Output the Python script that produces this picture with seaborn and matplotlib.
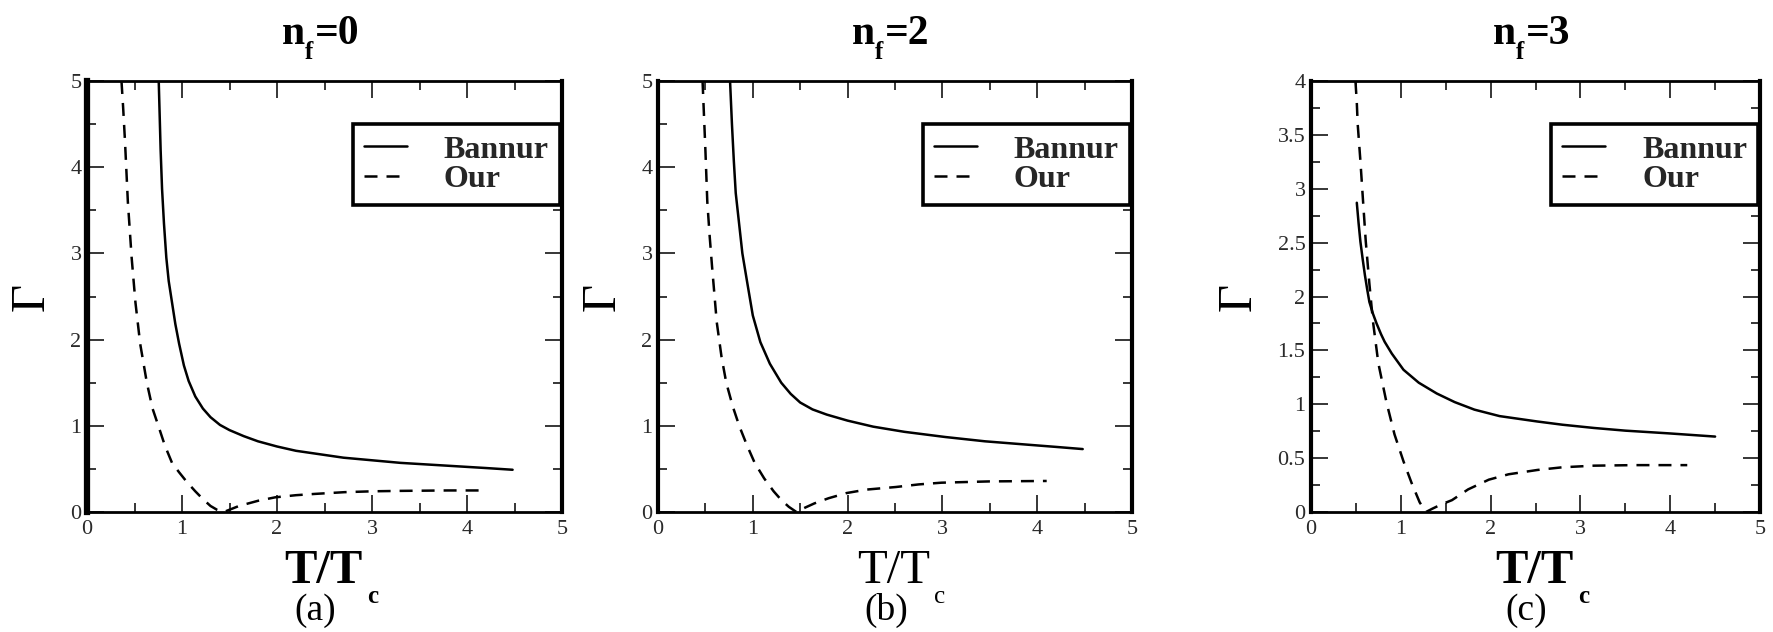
import matplotlib
matplotlib.use("Agg")
import matplotlib.pyplot as plt
import seaborn as sns
from matplotlib.ticker import MultipleLocator, FuncFormatter

# ---- data: coupling parameter Gamma vs T/Tc ----
# n_f = 0
a_bannur_t = [0.755, 0.765, 0.775, 0.79, 0.81, 0.835, 0.86, 0.895, 0.93, 0.97, 1.02, 1.07, 1.14,
              1.22, 1.30, 1.40, 1.50, 1.65, 1.80, 2.0, 2.2, 2.45, 2.7, 3.0, 3.3, 3.6, 3.9, 4.2, 4.48]
a_bannur_g = [5.0, 4.6, 4.2, 3.75, 3.35, 2.95, 2.68, 2.43, 2.18, 1.95, 1.70, 1.52, 1.34,
              1.20, 1.10, 1.01, 0.95, 0.88, 0.82, 0.76, 0.71, 0.67, 0.63, 0.60, 0.57, 0.55, 0.53, 0.51, 0.49]
a_our_t = [0.363, 0.38, 0.40, 0.43, 0.47, 0.51, 0.56, 0.63, 0.69, 0.754, 0.82, 0.895, 0.97, 1.05,
           1.14, 1.22, 1.30, 1.37, 1.44, 1.52, 1.6, 1.7, 1.8, 1.98, 2.2, 2.4, 2.71, 3.0, 3.3, 3.8, 4.2]
a_our_g = [5.0, 4.7, 4.3, 3.6, 2.95, 2.43, 1.95, 1.5, 1.2, 0.99, 0.77, 0.57, 0.46, 0.35,
           0.24, 0.15, 0.07, 0.025, 0.0, 0.035, 0.07, 0.10, 0.13, 0.17, 0.195, 0.21, 0.23, 0.24, 0.245, 0.25, 0.25]

# n_f = 2
b_bannur_t = [0.76, 0.77, 0.78, 0.80, 0.82, 0.85, 0.89, 0.94, 1.0, 1.08, 1.18, 1.30, 1.40, 1.50,
              1.63, 1.78, 2.0, 2.27, 2.6, 3.03, 3.45, 3.91, 4.2, 4.48]
b_bannur_g = [5.0, 4.75, 4.5, 4.07, 3.7, 3.4, 3.0, 2.67, 2.28, 1.97, 1.72, 1.50, 1.37, 1.27,
              1.19, 1.13, 1.06, 0.99, 0.93, 0.87, 0.82, 0.78, 0.755, 0.73]
b_our_t = [0.47, 0.485, 0.50, 0.52, 0.545, 0.57, 0.62, 0.67, 0.72, 0.79, 0.86, 0.94, 1.02, 1.12,
           1.22, 1.30, 1.38, 1.46, 1.55, 1.65, 1.8, 1.99, 2.2, 2.51, 2.75, 2.99, 3.5, 4.1]
b_our_g = [5.0, 4.6, 4.2, 3.6, 3.2, 2.85, 2.2, 1.8, 1.5, 1.22, 0.99, 0.77, 0.57, 0.39,
           0.24, 0.14, 0.06, 0.0, 0.05, 0.10, 0.16, 0.22, 0.26, 0.29, 0.32, 0.34, 0.355, 0.36]

# n_f = 3
c_bannur_t = [0.51, 0.53, 0.55, 0.575, 0.60, 0.625, 0.65, 0.69, 0.73, 0.78, 0.82, 0.90, 1.03, 1.2,
              1.40, 1.6, 1.82, 2.1, 2.52, 2.8, 3.15, 3.5, 3.98, 4.5]
c_bannur_g = [2.87, 2.68, 2.51, 2.35, 2.2, 2.07, 1.95, 1.84, 1.75, 1.65, 1.58, 1.47, 1.32, 1.20,
              1.10, 1.02, 0.95, 0.89, 0.84, 0.81, 0.78, 0.755, 0.73, 0.70]
c_our_t = [0.495, 0.51, 0.52, 0.535, 0.55, 0.58, 0.61, 0.65, 0.69, 0.75, 0.84, 0.93, 1.03, 1.12,
           1.21, 1.28, 1.35, 1.45, 1.57, 1.75, 1.98, 2.2, 2.52, 2.8, 3.15, 3.6, 4.19]
c_our_g = [4.0, 3.8, 3.6, 3.43, 3.26, 2.88, 2.51, 2.12, 1.77, 1.38, 1.02, 0.72, 0.47, 0.27,
           0.09, 0.0, 0.03, 0.07, 0.11, 0.21, 0.30, 0.35, 0.39, 0.415, 0.43, 0.435, 0.435]

panel_titles = ["0", "2", "3"]
panel_tags = ["(a)", "(b)", "(c)"]
series_labels = ["Bannur", "Our"]

sns.set_theme(style="ticks")
plt.rcParams["font.family"] = ["Liberation Serif", "DejaVu Serif"]

W, H = 1773, 632
fig = plt.figure(figsize=(W / 100, H / 100), dpi=100)
fig.patch.set_facecolor("white")


def px(x, y):
    return x / W, 1 - y / H


# axes boxes in pixels: left, right, top, bottom
boxes = [(87, 562, 81, 512), (658, 1132, 81, 512), (1311, 1760, 81, 512)]
ylims = [5, 5, 4]
data = [
    (a_bannur_t, a_bannur_g, a_our_t, a_our_g),
    (b_bannur_t, b_bannur_g, b_our_t, b_our_g),
    (c_bannur_t, c_bannur_g, c_our_t, c_our_g),
]
xlabel_bold = [True, False, True]
left_spine_w = [4.5, 3.0, 3.0]

for i, (l, r, t, b) in enumerate(boxes):
    ax = fig.add_axes([l / W, 1 - b / H, (r - l) / W, (b - t) / H])
    ax.set_facecolor("white")
    bt, bg, ot, og = data[i]
    sns.lineplot(x=bt, y=bg, ax=ax, sort=False, estimator=None, color="black",
                 linewidth=1.8, label=series_labels[0])
    sns.lineplot(x=ot, y=og, ax=ax, sort=False, estimator=None, color="black",
                 linewidth=1.8, linestyle=(0, (5.2, 3.6)), label=series_labels[1])
    ax.set_xlim(0, 5)
    ax.set_ylim(0, ylims[i])
    ax.xaxis.set_major_locator(MultipleLocator(1))
    ax.xaxis.set_minor_locator(MultipleLocator(0.5))
    if ylims[i] == 4:
        ax.yaxis.set_major_locator(MultipleLocator(0.5))
        ax.yaxis.set_minor_locator(MultipleLocator(0.25))
        ax.yaxis.set_major_formatter(FuncFormatter(lambda v, p: "%g" % v))
    else:
        ax.yaxis.set_major_locator(MultipleLocator(1))
        ax.yaxis.set_minor_locator(MultipleLocator(0.5))
    ax.tick_params(which="both", direction="in", top=True, right=True,
                   color="black", width=1.1, labelsize=16, labelcolor="#2a2a2a")
    ax.tick_params(which="major", length=12)
    ax.tick_params(which="minor", length=6.5)
    ax.tick_params(axis="x", which="major", pad=6)
    ax.tick_params(axis="y", which="major", pad=4)
    for side in ["top", "bottom"]:
        ax.spines[side].set_linewidth(2.0)
        ax.spines[side].set_color("black")
    ax.spines["right"].set_linewidth(3.0)
    ax.spines["left"].set_linewidth(left_spine_w[i])
    ax.spines["right"].set_color("black")
    ax.spines["left"].set_color("black")
    ax.set_xlabel("")
    ax.set_ylabel("\u0393", fontsize=35, labelpad=12, color="black")

    leg = ax.legend(loc="upper right", bbox_to_anchor=(0.996, 0.9),
                    borderaxespad=0, frameon=True, fancybox=False,
                    handlelength=1.35, handletextpad=1.15, labelspacing=0.0,
                    borderpad=0.35, prop={"family": "Liberation Serif",
                                          "weight": "bold", "size": 23})
    leg.get_frame().set_edgecolor("black")
    leg.get_frame().set_linewidth(2.6)
    leg.get_frame().set_facecolor("white")
    leg.get_frame().set_alpha(1)

    cx = (l + r) / 2
    # panel title n_f = ...
    fig.text(*px(cx - 43, 44), "n", ha="left", va="baseline",
             fontsize=30, fontweight="bold", color="black")
    fig.text(*px(cx - 20, 59), "f", ha="left", va="baseline",
             fontsize=18, fontweight="bold", color="black")
    fig.text(*px(cx - 10, 44), "=" + panel_titles[i], ha="left", va="baseline",
             fontsize=30, fontweight="bold", color="black")
    # x axis label T/T_c
    wt = "bold" if xlabel_bold[i] else "normal"
    fig.text(*px(cx - 1, 583), "T/T", ha="center", va="baseline",
             fontsize=35, fontweight=wt, color="black")
    cdx = 43 if xlabel_bold[i] else 39
    fig.text(*px(cx + cdx, 603), "c", ha="left", va="baseline",
             fontsize=18, fontweight=wt, color="black")
    # panel tag
    fig.text(*px(cx - 9, 620), panel_tags[i], ha="center", va="baseline",
             fontsize=27, color="black")

fig.savefig("out.png", dpi=100, facecolor="white")
